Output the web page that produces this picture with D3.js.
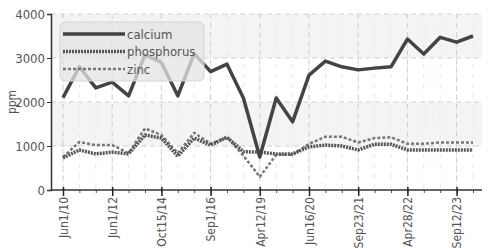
<!DOCTYPE html>
<html>
<head>
<meta charset="utf-8">
<script src="https://cdn.jsdelivr.net/npm/d3@7"></script>
<style>
  body { margin: 0; background: #fff; }
  svg text { font-family: "DejaVu Sans Condensed", "DejaVu Sans", sans-serif; font-stretch: condensed; fill: #555; }
</style>
</head>
<body>
<div id="chart"></div>
<script>
// tick labels shown every third sample
const tickIndex = [0, 3, 6, 9, 12, 15, 18, 21, 24];
const tickLabels = ["Jun1/10", "Jun1/12", "Oct15/14", "Sep1/16", "Apr12/19", "Jun16/20", "Sep23/21", "Apr28/22", "Sep12/23"];

// series values (ppm), one per sample
const calcium = [2100, 2800, 2320, 2450, 2140, 3070, 2900, 2140, 3100, 2690, 2860, 2090, 750,
  2090, 1550, 2610, 2930, 2800, 2730, 2770, 2800, 3430, 3090, 3470, 3360, 3500];
const phosphorus = [730, 910, 820, 860, 820, 1250, 1180, 770, 1180, 1020, 1200, 870, 860,
  820, 820, 980, 1020, 1000, 910, 1040, 1040, 910, 910, 910, 910, 910];
const zinc = [750, 1090, 1020, 1020, 840, 1400, 1250, 840, 1300, 1050, 1200, 780, 300,
  800, 800, 1050, 1210, 1210, 1080, 1180, 1200, 1050, 1050, 1080, 1080, 1080];

const yTicks = [0, 1000, 2000, 3000, 4000];

const width = 489, height = 248;
const margin = {top: 14, right: 7, bottom: 58, left: 51};
const innerW = width - margin.left - margin.right;
const innerH = height - margin.top - margin.bottom;

const svg = d3.select("#chart").append("svg")
  .attr("width", width).attr("height", height);

const g = svg.append("g").attr("transform", `translate(${margin.left},${margin.top})`);

const x = d3.scaleLinear().domain([0, calcium.length - 1]).range([12, 422]);
const y = d3.scaleLinear().domain([0, 4000]).range([innerH, 0]);

// alternating bands
g.selectAll("rect.band")
  .data([1000, 3000])
  .enter().append("rect")
  .attr("class", "band")
  .attr("x", 0).attr("width", innerW)
  .attr("y", d => y(d + 1000))
  .attr("height", d => y(d) - y(d + 1000))
  .attr("fill", "#f4f4f4");

// minor vertical grid at every sample
g.selectAll("line.vminor")
  .data(d3.range(calcium.length))
  .enter().append("line")
  .attr("x1", d => x(d)).attr("x2", d => x(d))
  .attr("y1", 0).attr("y2", innerH)
  .attr("stroke", "#e6e6e6").attr("stroke-dasharray", "4,6");

// major vertical grid at labelled ticks
g.selectAll("line.vmajor")
  .data(tickIndex)
  .enter().append("line")
  .attr("x1", d => x(d)).attr("x2", d => x(d))
  .attr("y1", 0).attr("y2", innerH)
  .attr("stroke", "#cfcfcf").attr("stroke-dasharray", "5,4");

// horizontal grid
g.selectAll("line.hgrid")
  .data(yTicks.slice(1))
  .enter().append("line")
  .attr("x1", 0).attr("x2", innerW)
  .attr("y1", d => y(d)).attr("y2", d => y(d))
  .attr("stroke", "#d0d0d0").attr("stroke-dasharray", "5,4");

// axes
const yAxis = g.append("g")
  .call(d3.axisLeft(y).tickValues(yTicks).tickSize(4).tickPadding(2).tickFormat(d3.format("d")));
yAxis.select(".domain").attr("stroke", "#333").attr("stroke-width", 1.5);
yAxis.selectAll(".tick line").attr("stroke", "#333");
yAxis.selectAll("text").attr("font-size", 13).style("fill", "#555");

const xMinor = g.append("g")
  .attr("transform", `translate(0,${innerH})`)
  .call(d3.axisBottom(x).tickValues(d3.range(calcium.length)).tickSize(3).tickFormat(""));
xMinor.select(".domain").remove();
xMinor.selectAll(".tick line").attr("stroke", "#555");

const xAxis = g.append("g")
  .attr("transform", `translate(0,${innerH})`)
  .call(d3.axisBottom(x).tickValues(tickIndex).tickSize(6)
    .tickFormat((d, i) => tickLabels[i]));
xAxis.select(".domain").attr("stroke", "#333").attr("stroke-width", 1.5)
  .attr("d", `M0,0H${innerW}`);
xAxis.selectAll(".tick line").attr("stroke", "#222").attr("y1", -3).attr("stroke-width", 1.5);
xAxis.selectAll("text")
  .attr("font-size", 12).style("fill", "#555")
  .attr("text-anchor", "end")
  .attr("transform", "rotate(-90)")
  .attr("x", -7).attr("y", 0).attr("dy", "0.35em");

svg.append("text")
  .attr("transform", `translate(12,${margin.top + y(2000)}) rotate(-90)`)
  .attr("text-anchor", "middle")
  .attr("dy", "0.35em")
  .attr("font-size", 12)
  .text("ppm");

// lines
const line = d3.line().x((d, i) => x(i)).y(d => y(d));
const series = [
  {name: "calcium", values: calcium, color: "#444", width: 3.5, dash: null},
  {name: "phosphorus", values: phosphorus, color: "#555", width: 3.5, dash: "2,1"},
  {name: "zinc", values: zinc, color: "#777", width: 2.5, dash: "3,2"}
];

g.selectAll("path.series")
  .data(series.slice().reverse())
  .enter().append("path")
  .attr("class", "series")
  .attr("d", d => line(d.values))
  .attr("fill", "none")
  .attr("stroke", d => d.color)
  .attr("stroke-width", d => d.width)
  .attr("stroke-dasharray", d => d.dash)
  .attr("stroke-linejoin", "round");

// legend
const legend = svg.append("g").attr("transform", "translate(60,22)");
legend.append("rect")
  .attr("width", 144).attr("height", 59).attr("rx", 5)
  .attr("fill", "#e4e4e4").attr("fill-opacity", 0.75)
  .attr("stroke", "#d4d4d4");
const items = legend.selectAll("g.item")
  .data(series)
  .enter().append("g")
  .attr("transform", (d, i) => `translate(3,${12 + i * 17.5})`);
items.append("line")
  .attr("x1", 0).attr("x2", 62)
  .attr("stroke", d => d.color)
  .attr("stroke-width", d => d.width)
  .attr("stroke-dasharray", d => d.dash);
items.append("text")
  .attr("x", 64).attr("dy", "0.35em")
  .attr("font-size", 13)
  .text(d => d.name);
</script>
</body>
</html>
